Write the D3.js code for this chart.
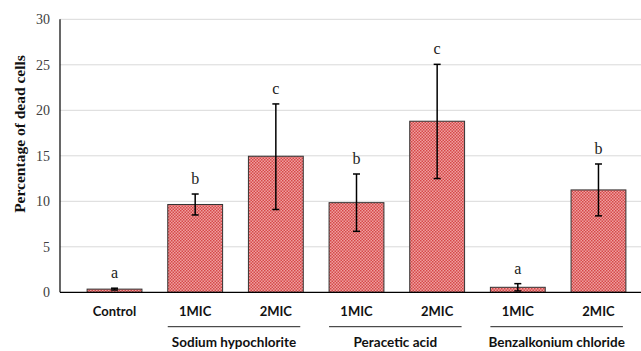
<!DOCTYPE html>
<html><head><meta charset="utf-8">
<script src="https://cdn.jsdelivr.net/npm/d3@7"></script>
<style>body{margin:0;background:#fff}svg{display:block}</style>
</head><body>
<svg id="c" width="641" height="351"></svg>
<script>
const categories = ["Control","1MIC","2MIC","1MIC","2MIC","1MIC","2MIC"];
const values = [0.35, 9.65, 14.95, 9.85, 18.8, 0.55, 11.25];
const errLow = [0.1, 1.15, 5.85, 3.15, 6.3, 0.4, 2.85];
const errHigh = [0.1, 1.15, 5.75, 3.15, 6.25, 0.4, 2.85];
const letters = ["a","b","c","b","c","a","b"];
const groups = [{name:"Sodium hypochlorite", from:1, to:2},{name:"Peracetic acid", from:3, to:4},{name:"Benzalkonium chloride", from:5, to:6}];
const yTicks = [0,5,10,15,20,25,30];

const svg = d3.select("#c");
const mLeft = 60, mTop = 19.3, mBottom = 292.3, mRight = 641;
const y = d3.scaleLinear().domain([0,30]).range([mBottom, mTop]);
const x = d3.scaleBand().domain(d3.range(categories.length)).range([74.2, 638.8]).paddingInner(0.32).paddingOuter(0.16);

const defs = svg.append("defs");
const pat = defs.append("pattern").attr("id","chk").attr("patternUnits","userSpaceOnUse").attr("width",3).attr("height",3);
pat.append("rect").attr("width",3).attr("height",3).attr("fill","#efa0a0");
pat.append("rect").attr("width",1.5).attr("height",1.5).attr("fill","#d64848");
pat.append("rect").attr("x",1.5).attr("y",1.5).attr("width",1.5).attr("height",1.5).attr("fill","#d64848");

// gridlines
svg.append("g").selectAll("line").data(yTicks.filter(d=>d>0)).join("line")
  .attr("x1",mLeft).attr("x2",mRight).attr("y1",d=>y(d)).attr("y2",d=>y(d))
  .attr("stroke","#d9d9d9").attr("stroke-width",1);

// y tick labels
svg.append("g").selectAll("text").data(yTicks).join("text")
  .attr("x",50).attr("y",d=>y(d)).attr("dy","0.35em").attr("text-anchor","end")
  .attr("font-family","Liberation Serif, serif").attr("font-size",14).attr("fill","#404040")
  .text(d=>d);

// bars
svg.append("g").selectAll("rect").data(values).join("rect")
  .attr("x",(d,i)=>x(i)).attr("width",x.bandwidth())
  .attr("y",d=>y(d)).attr("height",d=>y(0)-y(d))
  .attr("fill","url(#chk)").attr("stroke","#333").attr("stroke-width",1);

// error bars
const eg = svg.append("g").attr("stroke","#000").attr("stroke-width",1.5);
values.forEach((v,i)=>{
  const cx = x(i)+x.bandwidth()/2;
  const y1 = y(v+errHigh[i]), y2 = y(v-errLow[i]);
  eg.append("line").attr("x1",cx).attr("x2",cx).attr("y1",y1).attr("y2",y2);
  eg.append("line").attr("x1",cx-3.5).attr("x2",cx+3.5).attr("y1",y1).attr("y2",y1);
  eg.append("line").attr("x1",cx-3.5).attr("x2",cx+3.5).attr("y1",y2).attr("y2",y2);
});

// letters
svg.append("g").selectAll("text").data(letters).join("text")
  .attr("x",(d,i)=>x(i)+x.bandwidth()/2).attr("y",(d,i)=>y(values[i]+errHigh[i])-10)
  .attr("text-anchor","middle").attr("font-family","Liberation Serif, serif").attr("font-size",16).attr("fill","#222")
  .text(d=>d);

// axes lines
svg.append("line").attr("x1",mLeft).attr("x2",mLeft).attr("y1",mTop).attr("y2",mBottom).attr("stroke","#000").attr("stroke-width",1.2);
svg.append("line").attr("x1",mLeft).attr("x2",mRight).attr("y1",mBottom).attr("y2",mBottom).attr("stroke","#000").attr("stroke-width",1.2);

// x labels
svg.append("g").selectAll("text").data(categories).join("text")
  .attr("x",(d,i)=>x(i)+x.bandwidth()/2).attr("y",315.5).attr("text-anchor","middle")
  .attr("font-family","Lato, sans-serif").attr("font-weight","bold").attr("font-size",13).attr("fill","#111")
  .text(d=>d);

// group lines and labels
const gg = svg.append("g");
groups.forEach(g=>{
  const x1 = x(g.from), x2 = x(g.to)+x.bandwidth()-3;
  gg.append("line").attr("x1",x1).attr("x2",x2).attr("y1",326.7).attr("y2",326.7).attr("stroke","#222").attr("stroke-width",1);
  gg.append("text").attr("x",(x1+x2)/2).attr("y",347).attr("text-anchor","middle")
    .attr("font-family","Lato, sans-serif").attr("font-weight","bold").attr("font-size",13.5).attr("fill","#111")
    .text(g.name);
});

// y title
svg.append("text").attr("transform","translate(25,134) rotate(-90)").attr("text-anchor","middle")
  .attr("font-family","Liberation Serif, serif").attr("font-weight","bold").attr("font-size",15.5).attr("fill","#111")
  .text("Percentage of dead cells");
</script>
</body></html>
